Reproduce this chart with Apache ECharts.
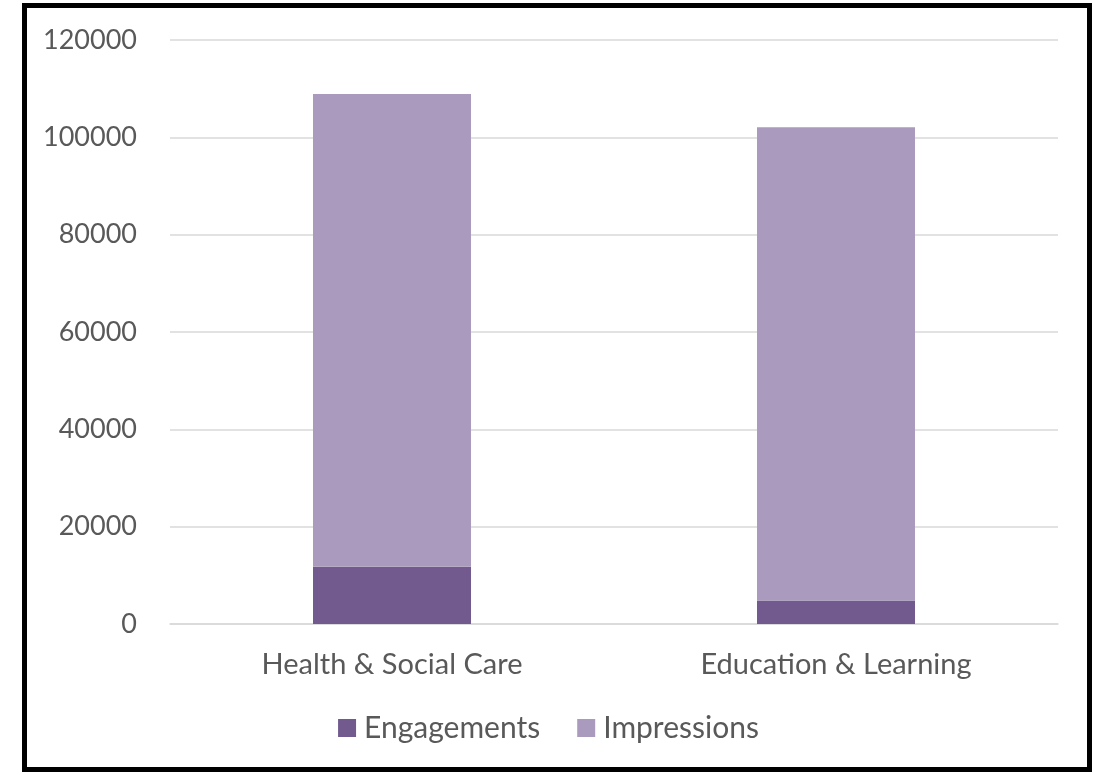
<!DOCTYPE html>
<html><head><meta charset="utf-8">
<script src="https://cdn.jsdelivr.net/npm/echarts@6/dist/echarts.min.js"></script>
<style>
html,body{margin:0;padding:0;background:#fff;}
#c{position:absolute;left:0;top:0;width:1097px;height:772px;}
#frame{position:absolute;left:22px;top:3px;width:1060px;height:759px;border:5px solid #000;pointer-events:none;}
</style></head><body>
<div id="c"></div><div id="frame"></div>
<script>
const categories = ["Health & Social Care", "Education & Learning"];
const engagements = [11750, 4830];
const impressions = [97150, 97230];
const yTicks = { min: 0, max: 120000, interval: 20000 };

const chart = echarts.init(document.getElementById('c'), null, { renderer: 'canvas' });
const font = 'Lato, "Open Sans", sans-serif';
chart.setOption({
  animation: false,
  backgroundColor: '#fff',
  grid: { left: 170, right: 39, top: 40, bottom: 148 },
  legend: {
    top: 708, left: 'center', itemWidth: 18, itemHeight: 18, itemGap: 37,
    icon: 'rect',
    textStyle: { color: '#595959', fontSize: 30, fontFamily: font, padding: [0, 0, 0, 3] },
    data: ['Engagements', 'Impressions']
  },
  xAxis: {
    type: 'category', data: categories,
    axisLine: { lineStyle: { color: '#d9d9d9', width: 1.5 } },
    axisTick: { show: false },
    axisLabel: { color: '#595959', fontSize: 29, fontFamily: font, margin: 26 }
  },
  yAxis: {
    type: 'value', min: yTicks.min, max: yTicks.max, interval: yTicks.interval,
    axisLine: { show: false }, axisTick: { show: false },
    splitLine: { lineStyle: { color: '#d9d9d9', width: 1.5 } },
    axisLabel: { color: '#595959', fontSize: 27, fontFamily: font, margin: 33,
      formatter: v => String(v) }
  },
  series: [
    { name: 'Engagements', type: 'bar', stack: 's', data: engagements, barWidth: 158,
      itemStyle: { color: '#725a8e' } },
    { name: 'Impressions', type: 'bar', stack: 's', data: impressions, barWidth: 158,
      itemStyle: { color: '#aa9bbe' } }
  ]
});
</script></body></html>
